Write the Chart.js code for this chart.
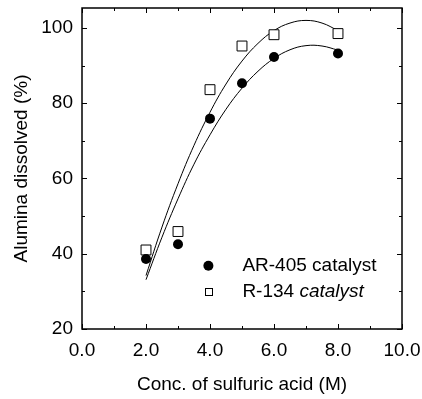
<!DOCTYPE html>
<html>
<head>
<meta charset="utf-8">
<script src="https://cdn.jsdelivr.net/npm/chart.js@4"></script>
<style>
  html, body { margin: 0; padding: 0; background: #fff; }
  #wrap { width: 422px; height: 399px; }
</style>
</head>
<body>
<div id="wrap"><canvas id="myChart" width="422" height="399"></canvas></div>
<script>
// measured points
var concentration = [2, 3, 4, 5, 6, 8];
var ar405Values = [38.6, 42.5, 75.9, 85.3, 92.3, 93.2];
var r134Values = [41.0, 45.9, 83.6, 95.2, 98.2, 98.5];

// fitted curves
var fitX = [2, 2.5, 3, 3.5, 4, 4.5, 5, 5.5, 6, 6.5, 7, 7.5, 8];
var fitAr405 = [33.1, 44.4, 54.6, 63.8, 71.6, 78.4, 84.0, 88.5, 91.9, 94.2, 95.3, 95.2, 94.1];
var fitR134 = [34.2, 47.1, 58.6, 68.8, 77.6, 85.1, 91.2, 95.9, 99.3, 101.3, 102.0, 101.3, 99.3];

var xTickValues = [0, 2, 4, 6, 8, 10];
var yTickValues = [20, 40, 60, 80, 100];

var legendLabels = ["AR-405", "R-134"];

function pairs(xs, ys) {
    return xs.map(function (x, i) { return { x: x, y: ys[i] }; });
}

var fontFamily = "'Liberation Sans', Arial, Helvetica, sans-serif";

// frame, inward ticks and the legend
var framePlugin = {
    id: 'frame',
    afterDatasetsDraw: function (chart) {
        var ctx = chart.ctx;
        var a = chart.chartArea;
        var xs = chart.scales.x;
        var ys = chart.scales.y;
        ctx.save();
        ctx.strokeStyle = '#000';
        ctx.lineWidth = 1.5;
        ctx.strokeRect(a.left, a.top, a.right - a.left, a.bottom - a.top);
        ctx.lineWidth = 1;
        ctx.beginPath();
        for (var v = 0; v <= 10; v++) {
            var px = Math.round(xs.getPixelForValue(v)) + 0.5;
            var len = v % 2 === 0 ? 5 : 3;
            ctx.moveTo(px, a.bottom); ctx.lineTo(px, a.bottom - len);
            ctx.moveTo(px, a.top); ctx.lineTo(px, a.top + len);
        }
        for (var w = 20; w <= 100; w += 10) {
            var py = Math.round(ys.getPixelForValue(w)) + 0.5;
            var l2 = w % 20 === 0 ? 5 : 3;
            ctx.moveTo(a.left, py); ctx.lineTo(a.left + l2, py);
            ctx.moveTo(a.right, py); ctx.lineTo(a.right - l2, py);
        }
        ctx.stroke();

        // legend
        var lx = xs.getPixelForValue(3.95);
        var tx = lx + 34;
        var y1 = ys.getPixelForValue(36.8);
        var y2 = ys.getPixelForValue(30);
        ctx.fillStyle = '#000';
        ctx.beginPath();
        ctx.arc(lx, y1, 5, 0, Math.PI * 2);
        ctx.fill();
        ctx.fillStyle = '#fff';
        ctx.fillRect(lx - 3.5, y2 - 3.5, 7, 7);
        ctx.strokeRect(Math.round(lx - 3.5) + 0.5, Math.round(y2 - 3.5) + 0.5, 7, 7);
        ctx.fillStyle = '#000';
        ctx.textBaseline = 'middle';
        ctx.font = '19px ' + fontFamily;
        ctx.fillText(legendLabels[0] + ' catalyst', tx, y1);
        var first = legendLabels[1] + ' ';
        ctx.fillText(first, tx, y2);
        var wFirst = ctx.measureText(first).width;
        ctx.font = 'italic 19px ' + fontFamily;
        ctx.fillText('catalyst', tx + wFirst, y2);
        ctx.restore();
    }
};

var ctx = document.getElementById("myChart").getContext("2d");
var myChart = new Chart(ctx, {
    type: 'scatter',
    data: {
        datasets: [
            {
                label: "AR-405 catalyst",
                data: pairs(concentration, ar405Values),
                pointStyle: 'circle',
                pointRadius: 5,
                backgroundColor: '#000',
                borderColor: '#000',
                borderWidth: 0,
                order: 0
            },
            {
                label: "R-134 catalyst",
                data: pairs(concentration, r134Values),
                pointStyle: 'rect',
                pointRadius: 7,
                backgroundColor: '#fff',
                borderColor: '#000',
                borderWidth: 1,
                order: 0
            },
            {
                label: "AR-405 fit",
                data: pairs(fitX, fitAr405),
                showLine: true,
                pointRadius: 0,
                borderColor: '#000',
                borderWidth: 1,
                tension: 0.4,
                fill: false,
                order: 1
            },
            {
                label: "R-134 fit",
                data: pairs(fitX, fitR134),
                showLine: true,
                pointRadius: 0,
                borderColor: '#000',
                borderWidth: 1,
                tension: 0.4,
                fill: false,
                order: 1
            }
        ]
    },
    options: {
        responsive: false,
        animation: false,
        layout: { padding: { left: 0, right: 0, top: 5, bottom: 0 } },
        plugins: {
            legend: { display: false },
            tooltip: { enabled: false }
        },
        scales: {
            x: {
                type: 'linear',
                min: 0,
                max: 10,
                afterBuildTicks: function (scale) {
                    scale.ticks = xTickValues.map(function (v) { return { value: v }; });
                },
                afterFit: function (scale) {
                    scale.height = 70;
                    scale.paddingRight = 20;
                    scale.paddingLeft = 0;
                },
                grid: { display: false, drawTicks: false },
                border: { display: false },
                ticks: {
                    autoSkip: false,
                    maxRotation: 0,
                    padding: 10,
                    color: '#000',
                    font: { family: fontFamily, size: 19 },
                    callback: function (v) { return v.toFixed(1); }
                },
                title: {
                    display: true,
                    text: 'Conc. of sulfuric acid (M)',
                    color: '#000',
                    font: { family: fontFamily, size: 19 },
                    padding: { top: 0, bottom: 2.5 }
                }
            },
            y: {
                type: 'linear',
                min: 20,
                max: 105.3,
                afterBuildTicks: function (scale) {
                    scale.ticks = yTickValues.map(function (v) { return { value: v }; });
                },
                afterFit: function (scale) {
                    scale.width = 82;
                    scale.paddingTop = 0;
                    scale.paddingBottom = 0;
                },
                grid: { display: false, drawTicks: false },
                border: { display: false },
                ticks: {
                    autoSkip: false,
                    padding: 9,
                    color: '#000',
                    font: { family: fontFamily, size: 19 },
                    callback: function (v) { return String(v); }
                },
                title: {
                    display: true,
                    text: 'Alumina dissolved (%)',
                    color: '#000',
                    font: { family: fontFamily, size: 19 },
                    padding: { top: 10.5, bottom: 0 }
                }
            }
        }
    },
    plugins: [framePlugin]
});
</script>
</body>
</html>
